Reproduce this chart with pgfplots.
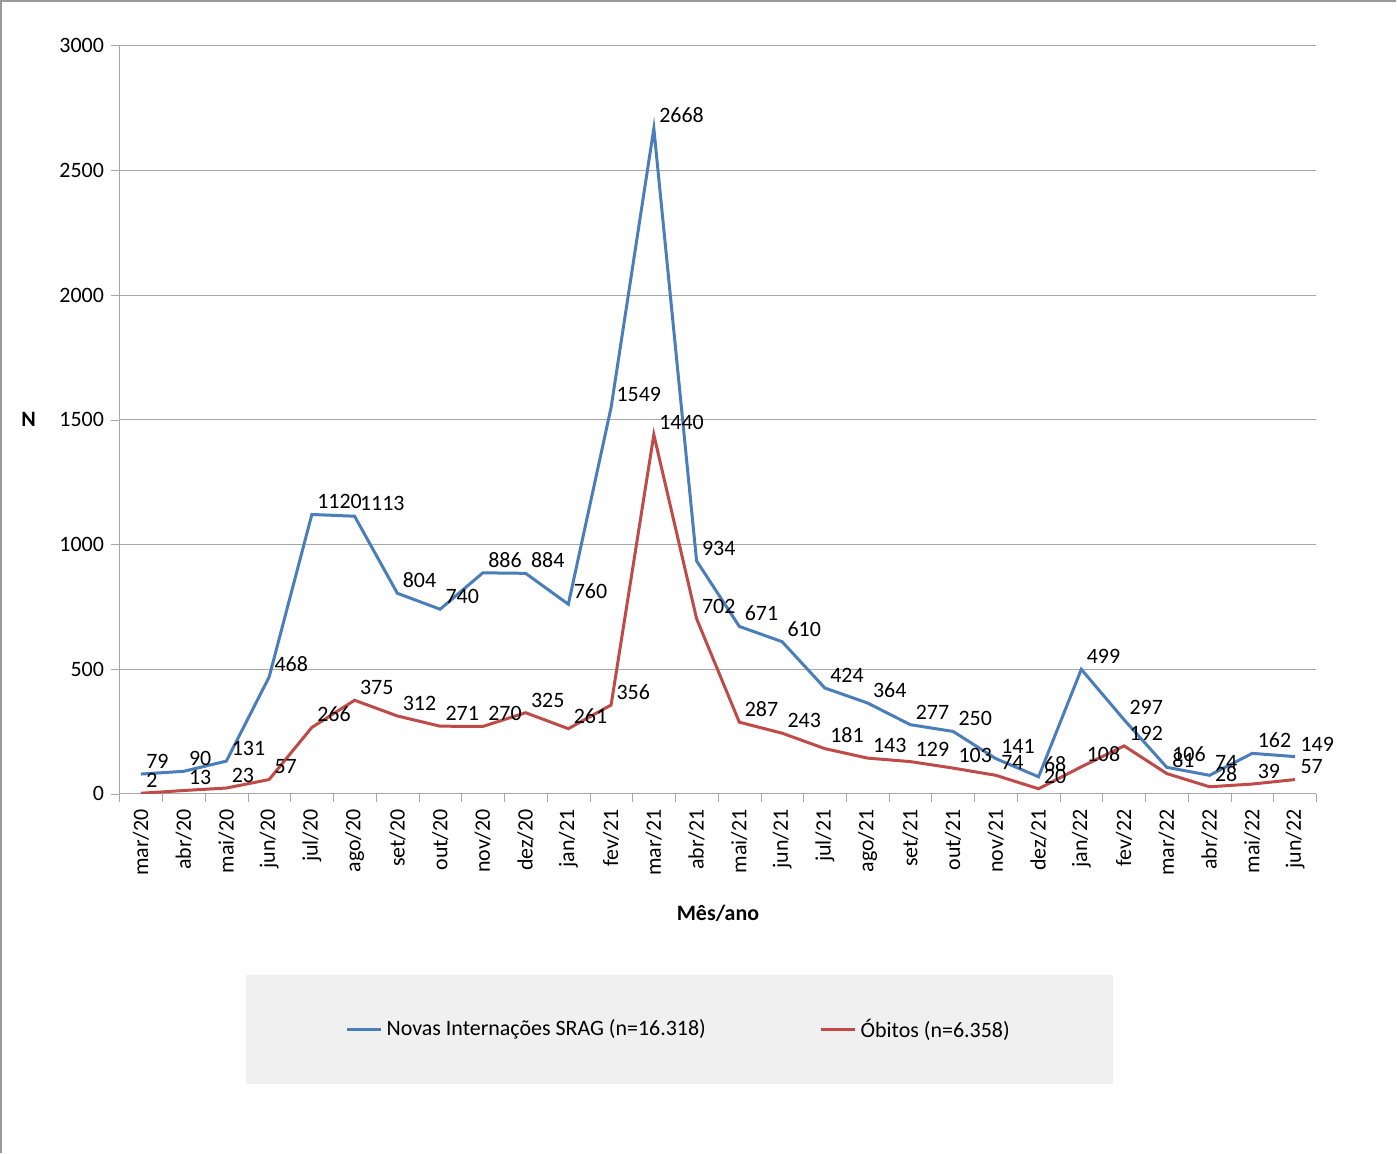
\documentclass[border=0pt]{standalone}
\usepackage{pgfplots}
\pgfplotsset{compat=1.18}
\usepackage{fontspec}
\setmainfont{Carlito}
\definecolor{cblue}{RGB}{74,126,187}
\definecolor{cred}{RGB}{190,75,72}
\begin{document}
\begin{tikzpicture}
\fill[white] (-59.5pt,-174pt) rectangle (635pt,397.5pt);
\draw[gray!80,line width=0.8pt] (-59.5pt,-180pt) -- (-59.5pt,397.5pt) -- (640pt,397.5pt);
\begin{axis}[
  scale only axis, width=600pt, height=375pt,
  xmin=-0.5, xmax=27.5, ymin=0, ymax=3000,
  ytick={0,500,...,3000},
  xtick={0,...,27},
  xticklabels={mar/20,abr/20,mai/20,jun/20,jul/20,ago/20,set/20,out/20,nov/20,dez/20,jan/21,fev/21,mar/21,abr/21,mai/21,jun/21,jul/21,ago/21,set/21,out/21,nov/21,dez/21,jan/22,fev/22,mar/22,abr/22,mai/22,jun/22},
  xticklabel style={rotate=90,anchor=east},
  minor xtick={-0.5,0.5,...,27.5},
  major x tick style={draw=none},
  minor tick length=4pt,
  ymajorgrids, grid style={gray!70},
  axis line style={gray!70},
  axis x line*=bottom, axis y line*=left,
  y tick style={gray!70}, ytick align=outside, minor x tick style={gray!70}, xtick align=outside,
  tick label style={font=\fontsize{11}{13}\selectfont},
  /pgf/number format/assume math mode=true,
  /pgf/number format/1000 sep={},
  xlabel={\textbf{Mês/ano}}, ylabel={\textbf{N}},
  label style={font=\fontsize{11}{13}\selectfont},
  ylabel style={rotate=-90, at={(ticklabel cs:0.5)}, anchor=east, xshift=-5pt},
  xlabel style={yshift=-8pt},
  nodes near coords,
  every node near coord/.append style={font=\fontsize{11}{13}\selectfont, black, anchor=south west, inner sep=2pt},
  legend columns=2,
  legend style={at={(0.468,-0.315)}, anchor=center, fill=gray!12, draw=none,
    font=\fontsize{11}{13}\selectfont, inner xsep=50pt, inner ysep=20pt,
    /tikz/every even column/.append style={column sep=55pt}},
  legend image post style={line width=1.5pt},
]
\addplot[cblue, line width=1.5pt] coordinates {(0,79)(1,90)(2,131)(3,468)(4,1120)(5,1113)(6,804)(7,740)(8,886)(9,884)(10,760)(11,1549)(12,2668)(13,934)(14,671)(15,610)(16,424)(17,364)(18,277)(19,250)(20,141)(21,68)(22,499)(23,297)(24,106)(25,74)(26,162)(27,149)};
\addlegendentry{Novas Internações SRAG (n=16.318)}
\addplot[cred, line width=1.5pt] coordinates {(0,2)(1,13)(2,23)(3,57)(4,266)(5,375)(6,312)(7,271)(8,270)(9,325)(10,261)(11,356)(12,1440)(13,702)(14,287)(15,243)(16,181)(17,143)(18,129)(19,103)(20,74)(21,20)(22,108)(23,192)(24,81)(25,28)(26,39)(27,57)};
\addlegendentry{Óbitos (n=6.358)}
\end{axis}
\end{tikzpicture}
\end{document}
